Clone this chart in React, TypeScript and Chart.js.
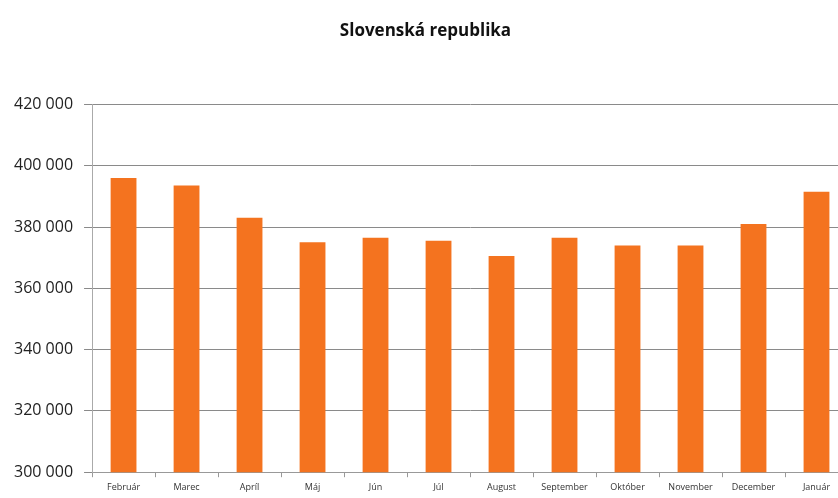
import React, { useEffect, useRef } from "react";
import { Chart, registerables } from "chart.js";

Chart.register(...registerables);

const TITLE = "Slovenská republika";
const CATEGORIES = ["Február", "Marec", "Apríl", "Máj", "Jún", "Júl", "August", "September", "Október", "November", "December", "Január"];
const VALUES = [396000, 393500, 383000, 375000, 376500, 375500, 370500, 376500, 374000, 374000, 381000, 391500];
const Y_MIN = 300000;
const Y_MAX = 420000;
const Y_STEP = 20000;

const fmt = (v: number) => {
  const s = Math.round(v).toString();
  return s.replace(/\B(?=(\d{3})+(?!\d))/g, " ");
};

export default function App() {
  const ref = useRef<HTMLCanvasElement>(null);
  useEffect(() => {
    if (!ref.current) return;
    const chart = new Chart(ref.current, {
      type: "bar",
      data: {
        labels: CATEGORIES,
        datasets: [
          {
            data: VALUES,
            backgroundColor: "#F4731F",
            barPercentage: 0.41,
            categoryPercentage: 1,
          },
        ],
      },
      options: {
        animation: false,
        responsive: false,
        layout: { padding: { left: 3, right: 0, top: 0, bottom: 0 } },
        plugins: {
          legend: { display: false },
          tooltip: { enabled: false },
          title: {
            display: true,
            text: TITLE,
            color: "#111",
            font: { family: "Open Sans", size: 17, weight: "bold" },
            padding: { top: 21, bottom: 63 },
          },
        },
        scales: {
          x: {
            grid: { display: true, drawOnChartArea: false, tickLength: 5, color: "#999" },
            border: { color: "#999" },
            ticks: { color: "#333", font: { family: "Open Sans", size: 9 }, padding: 5, maxRotation: 0, autoSkip: false },
          },
          y: {
            min: Y_MIN,
            max: Y_MAX,
            grid: { color: "#8a8a8a", tickLength: 8 },
            border: { color: "#aaa" },
            ticks: {
              stepSize: Y_STEP,
              color: "#222",
              padding: 11,
              font: { family: "Open Sans", size: 16 },
              callback: (v: any) => fmt(Number(v)),
            },
          },
        },
      },
    });
    return () => chart.destroy();
  }, []);
  return (
    <div style={{ position: "fixed", left: 0, top: 0, width: 838, height: 498, overflow: "hidden", background: "#fff" }}>
      <canvas ref={ref} width={848} height={498} style={{ display: "block" }} />
    </div>
  );
}
